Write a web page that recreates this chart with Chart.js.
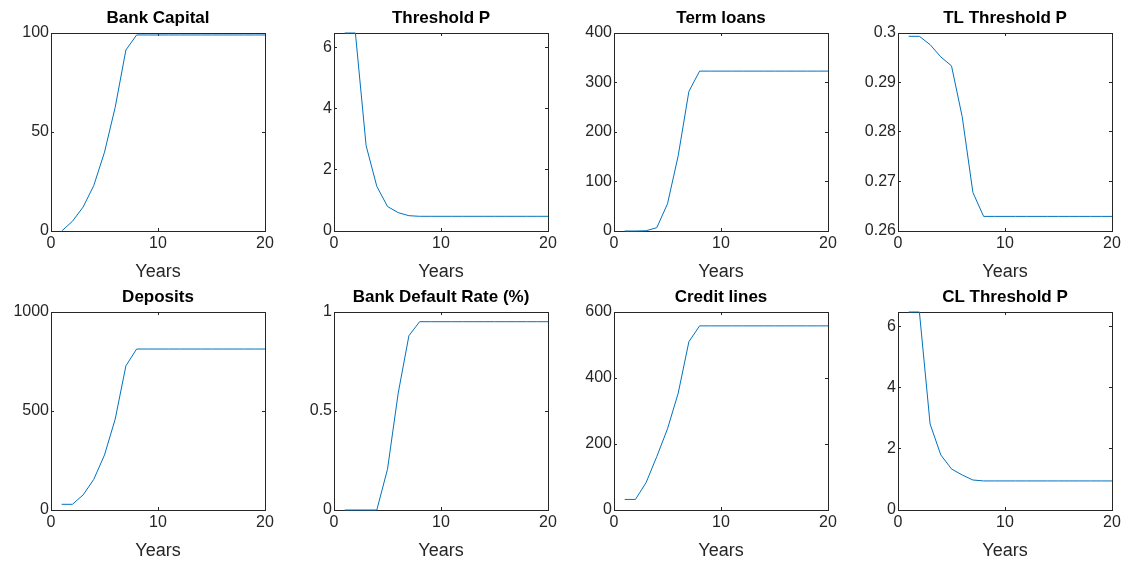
<!DOCTYPE html>
<html>
<head>
<meta charset="utf-8">
<script src="https://cdn.jsdelivr.net/npm/chart.js@4.4.1/dist/chart.umd.min.js"></script>
<style>
  html, body { margin: 0; padding: 0; background: #fff; overflow: hidden; }
  #wrap { position: relative; width: 1130px; height: 561px; }
  .panel { position: absolute; width: 280px; height: 281px; }
</style>
</head>
<body>
<div id="wrap"></div>
<script>
// Simulation years
const years = [1, 2, 3, 4, 5, 6, 7, 8, 9, 10, 11, 12, 13, 14, 15, 16, 17, 18, 19, 20];

// Series
const bankCapital = [0, 4.9, 12.1, 23, 39.8, 62.5, 91.4, 99, 99, 99, 99, 99, 99, 99, 99, 99, 99, 99, 99, 99];
const thresholdP = [6.47, 6.47, 2.79, 1.46, 0.8, 0.6, 0.5, 0.48, 0.48, 0.48, 0.48, 0.48, 0.48, 0.48, 0.48, 0.48, 0.48, 0.48, 0.48, 0.48];
const termLoans = [0, 0, 0.5, 6.7, 55, 152, 282, 323, 323, 323, 323, 323, 323, 323, 323, 323, 323, 323, 323, 323];
const tlThresholdP = [0.29933, 0.29933, 0.29765, 0.29517, 0.29336, 0.28309, 0.26779, 0.26295, 0.26295, 0.26295, 0.26295, 0.26295, 0.26295, 0.26295, 0.26295, 0.26295, 0.26295, 0.26295, 0.26295, 0.26295];
const deposits = [28.7, 28.7, 76, 155, 278, 459, 728, 813, 813, 813, 813, 813, 813, 813, 813, 813, 813, 813, 813, 813];
const defaultRate = [0, 0, 0, 0, 0.206, 0.59, 0.88, 0.951, 0.951, 0.951, 0.951, 0.951, 0.951, 0.951, 0.951, 0.951, 0.951, 0.951, 0.951, 0.951];
const creditLines = [32, 32, 83, 162, 246, 354, 510, 558, 558, 558, 558, 558, 558, 558, 558, 558, 558, 558, 558, 558];
const clThresholdP = [6.47, 6.47, 2.81, 1.8, 1.34, 1.145, 0.98, 0.95, 0.95, 0.95, 0.95, 0.95, 0.95, 0.95, 0.95, 0.95, 0.95, 0.95, 0.95, 0.95];

// Panel titles and y ranges
const titles = ['Bank Capital', 'Threshold P', 'Term loans', 'TL Threshold P',
                'Deposits', 'Bank Default Rate (%)', 'Credit lines', 'CL Threshold P'];
const series = [bankCapital, thresholdP, termLoans, tlThresholdP,
                deposits, defaultRate, creditLines, clThresholdP];
const yMin = [0, 0, 0, 0.26, 0, 0, 0, 0];
const yMax = [100, 6.47, 400, 0.3, 1000, 1, 600, 6.47];
const yStep = [50, 2, 100, 0.01, 500, 0.5, 200, 2];
const xTicks = [0, 10, 20];

// plot area corners (left, top) in page pixels
const plotLefts = [51, 334, 614, 898];
const plotTops = [33, 312];

const AX = '#262626';
const FONT = "'Liberation Sans', Arial, Helvetica, sans-serif";

function fmt(v) { return String(+v.toFixed(4)); }

function axisBase(pos) {
  return {
    position: pos,
    border: { display: true, color: AX, width: 1 },
    grid: { drawOnChartArea: false, drawTicks: true, tickLength: -3, color: AX, lineWidth: 1 }
  };
}

const wrap = document.getElementById('wrap');

series.forEach((vals, i) => {
  const col = i % 4, row = Math.floor(i / 4);
  const div = document.createElement('div');
  div.className = 'panel';
  div.style.left = (plotLefts[col] - 50) + 'px';
  div.style.top = (plotTops[row] - 33) + 'px';
  const canvas = document.createElement('canvas');
  canvas.width = 280;
  canvas.height = 281;
  div.appendChild(canvas);
  wrap.appendChild(div);

  const pts = years.map((x, k) => ({ x: x, y: vals[k] }));

  new Chart(canvas, {
    type: 'line',
    data: {
      datasets: [{
        data: pts,
        borderColor: '#0072BD',
        borderWidth: 1,
        pointRadius: 0,
        tension: 0,
        fill: false,
        clip: 2
      }]
    },
    options: {
      responsive: false,
      animation: false,
      events: [],
      layout: { padding: { left: 0, right: 16, top: 0, bottom: 0 } },
      plugins: {
        legend: { display: false },
        tooltip: { enabled: false },
        title: {
          display: true, text: titles[i], fullSize: false, color: '#000',
          font: { family: FONT, size: 17, weight: 'bold', lineHeight: 1 },
          padding: { top: 10, bottom: 6 }
        }
      },
      scales: {
        x: Object.assign(axisBase('bottom'), {
          type: 'linear', min: 0, max: 20,
          afterBuildTicks: s => { s.ticks = xTicks.map(v => ({ value: v })); },
          afterFit: s => { s.height = 50; },
          ticks: { padding: 6, color: AX, maxRotation: 0, autoSkip: false,
                   font: { family: FONT, size: 16 }, callback: v => fmt(v) },
          title: { display: true, text: 'Years', color: AX, padding: 0,
                   font: { family: FONT, size: 18, lineHeight: 1 } }
        }),
        x2: Object.assign(axisBase('top'), {
          type: 'linear', min: 0, max: 20, display: true,
          afterBuildTicks: s => { s.ticks = xTicks.map(v => ({ value: v })); },
          afterFit: s => { s.height = 0; },
          ticks: { display: false }
        }),
        y: Object.assign(axisBase('left'), {
          min: yMin[i], max: yMax[i], bounds: 'data',
          ticks: { stepSize: yStep[i], includeBounds: false, padding: 5, color: AX, autoSkip: false,
                   font: { family: FONT, size: 16 }, callback: v => fmt(v) },
          afterFit: s => { s.width = 50; }
        }),
        y2: Object.assign(axisBase('right'), {
          min: yMin[i], max: yMax[i], bounds: 'data', display: true,
          ticks: { display: false, stepSize: yStep[i], includeBounds: false, autoSkip: false },
          afterFit: s => { s.width = 0; }
        })
      }
    }
  });
});
</script>
</body>
</html>
